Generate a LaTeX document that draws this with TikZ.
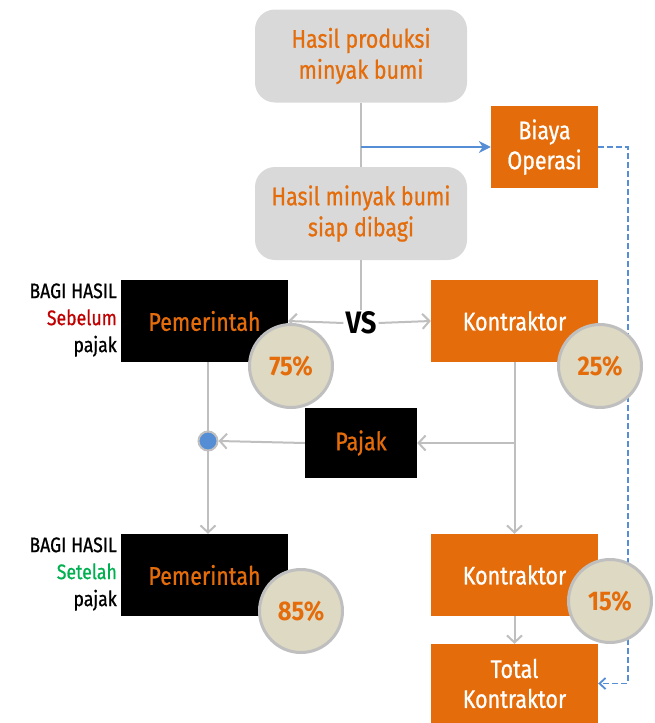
\documentclass[tikz,border=0pt]{standalone}
\usepackage{fontspec}
\setmainfont{Fira Sans}[FakeStretch=0.84, FakeBold=0.8]
\newfontfamily\pctfont{Fira Sans Bold}[FakeStretch=0.88]
\usetikzlibrary{arrows.meta}
\definecolor{org}{HTML}{E46C0A}
\definecolor{boxgray}{HTML}{D9D9D9}
\definecolor{lgray}{HTML}{BFBFBF}
\definecolor{myblue}{HTML}{558ED5}
\definecolor{pctfill}{HTML}{DDD9C3}
\definecolor{darkred}{HTML}{C00000}
\definecolor{mygreen}{HTML}{00B050}
\tikzset{
  graybox/.style={rectangle, rounded corners=20pt, fill=boxgray, minimum width=212pt, minimum height=93pt, inner sep=0pt, text=org, align=center, font=\fontsize{25.5}{31}\selectfont},
  orgbox/.style={rectangle, fill=org, inner sep=0pt, text=white, align=center, font=\fontsize{25.5}{30}\selectfont},
  blkbox/.style={rectangle, fill=black, inner sep=0pt, text=org, align=center, font=\fontsize{25.5}{30}\selectfont},
  pct/.style={circle, fill=pctfill, draw=lgray, line width=3pt, minimum size=83pt, inner sep=0pt, text=org, font=\fontsize{27}{30}\pctfont},
  side/.style={align=right, anchor=east, inner sep=0pt, font=\fontsize{21}{27}\selectfont},
  gline/.style={draw=lgray, line width=2pt},
  garrow/.style={gline, -{Straight Barb[length=7pt,width=15pt]}},
  barrow/.style={draw=myblue, line width=1.5pt, -{Stealth[length=12pt,width=12pt]}},
  dashblue/.style={draw=myblue, line width=1.8pt, dash pattern=on 6pt off 3pt, -{Straight Barb[length=6pt,width=11pt]}}
}
\begin{document}
\begin{tikzpicture}[x=1pt,y=-1pt]
\useasboundingbox (0,0) rectangle (655,723);

% boxes
\node[graybox] (top) at (361,56) {Hasil produksi\\minyak bumi};
\node[graybox] (mid) at (361,213.5) {Hasil minyak bumi\\siap dibagi};
\node[orgbox, minimum width=107pt, minimum height=82pt] (biaya) at (544.5,147) {Biaya\\Operasi};
\node[blkbox, minimum width=167pt, minimum height=82pt] (pem1) at (204.5,321) {Pemerintah};
\node[orgbox, minimum width=167pt, minimum height=82pt] (kon1) at (514.5,321) {Kontraktor};
\node[font=\fontsize{31}{31}\pctfont, inner sep=2pt] (vs) at (361,323) {VS};
\node[blkbox, minimum width=112pt, minimum height=70pt] (pajak) at (361,443) {Pajak};
\node[blkbox, minimum width=167pt, minimum height=82pt] (pem2) at (204.5,575) {Pemerintah};
\node[orgbox, minimum width=167pt, minimum height=82pt] (kon2) at (514.5,575) {Kontraktor};
\node[orgbox, minimum width=167pt, minimum height=79pt] (total) at (514.5,683.5) {Total\\Kontraktor};

% side labels
\node[side] (lab1) at (117,320) {BAGI HASIL\\\textcolor{darkred}{Sebelum}\\pajak};
\node[side] (lab2) at (117,574) {BAGI HASIL\\\textcolor{mygreen}{Setelah}\\pajak};

% blue dot
\coordinate (dotc) at (208,441);

% connectors
\draw[gline, line width=2.5pt] (top.south) -- (mid.north);
\draw[barrow] (top.south |- biaya.west) -- (biaya.west);
\draw[gline, line width=2.5pt] (mid.south) -- (vs.north);
\draw[garrow] (vs.west) -- (pem1.east);
\draw[garrow] (vs.east) -- (kon1.west);
\draw[gline] (dotc |- pem1.south) -- (dotc);
\draw[garrow] (dotc) -- (dotc |- pem2.north);
\draw[garrow] (kon1.south) -- (kon2.north);
\draw[garrow] (kon1.south |- pajak.east) -- (pajak.east);
\node[circle, fill=myblue, draw=lgray, line width=2pt, minimum size=19pt, inner sep=0pt] (dot) at (dotc) {};
\draw[garrow] (pajak.west) -- (dot.east);
\draw[garrow] (kon2.south) -- (total.north);
\coordinate (dx) at (628,400);
\draw[dashblue] (biaya.east) -| (dx) |- (total.east);

% percentages
\node[pct] (p75) at (291,366) {75\%};
\node[pct] (p25) at (600,366) {25\%};
\node[pct] (p85) at (301,611) {85\%};
\node[pct] (p15) at (610,601) {15\%};
\end{tikzpicture}
\end{document}
